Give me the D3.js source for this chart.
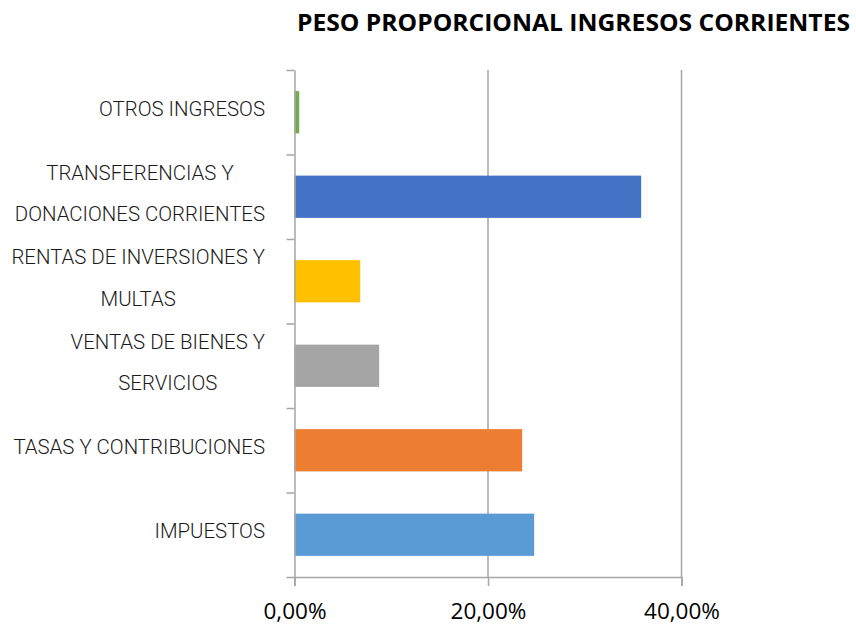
<!DOCTYPE html>
<html>
<head>
<meta charset="utf-8">
<script src="https://cdn.jsdelivr.net/npm/d3@7"></script>
<style>
  body { margin: 0; background: #fff; }
  .cat { font-family: Roboto, "Liberation Sans", sans-serif; font-weight: 300; font-size: 20.4px; fill: #1a1a1a; }
  .x-axis text { font-family: "Open Sans", sans-serif; font-size: 22.5px; fill: #000; }
  .title { font-family: "Open Sans", sans-serif; font-weight: 700; font-size: 23.5px; fill: #000; }
</style>
</head>
<body>
<svg></svg>
<script>
const width = 856;
const height = 626;

// data, top to bottom as drawn
const categories = [
  "OTROS INGRESOS",
  "TRANSFERENCIAS Y\nDONACIONES CORRIENTES",
  "RENTAS DE INVERSIONES Y\nMULTAS",
  "VENTAS DE BIENES Y\nSERVICIOS",
  "TASAS Y CONTRIBUCIONES",
  "IMPUESTOS"
];
const values = [0.0049, 0.3583, 0.0679, 0.0875, 0.2353, 0.2477];
const colors = ["#70ad47", "#4472c4", "#ffc000", "#a5a5a5", "#ed7d31", "#5b9bd5"];
const xTicks = [0, 0.2, 0.4];

const plotLeft = 294.5, plotRight = 681.5, plotTop = 70, plotBottom = 577;

const svg = d3.select("svg").attr("width", width).attr("height", height);

const x = d3.scaleLinear().domain([0, 0.4]).range([plotLeft, plotRight]);
const y = d3.scaleBand().domain(d3.range(categories.length))
  .range([plotTop, plotBottom]).paddingInner(0.5).paddingOuter(0.25);
const yEdge = d3.scaleLinear().domain([0, categories.length]).range([plotTop, plotBottom]);

const locale = d3.formatLocale({ decimal: ",", thousands: ".", grouping: [3], currency: ["", "€"] });
const pct = locale.format(".2%");

// gridlines
svg.append("g")
  .selectAll("line")
  .data(xTicks.slice(1))
  .join("line")
  .attr("x1", d => x(d)).attr("x2", d => x(d))
  .attr("y1", plotTop).attr("y2", plotBottom)
  .attr("stroke", "#a6a6a6").attr("stroke-width", 1.5);

// bars
svg.append("g")
  .selectAll("rect")
  .data(values)
  .join("rect")
  .attr("x", x(0))
  .attr("y", (d, i) => y(i))
  .attr("width", d => x(d) - x(0))
  .attr("height", y.bandwidth())
  .attr("fill", (d, i) => colors[i]);

// x axis
const xAxis = svg.append("g")
  .attr("class", "x-axis")
  .attr("transform", `translate(0,${plotBottom})`)
  .call(d3.axisBottom(x).tickValues(xTicks).tickSize(9).tickPadding(17).tickFormat(pct));
xAxis.select(".domain").attr("stroke", "#a6a6a6").attr("stroke-width", 1.5);
xAxis.selectAll(".tick line").attr("stroke", "#a6a6a6").attr("stroke-width", 1.5);

// y axis, ticks between categories
const yAxis = svg.append("g")
  .attr("transform", `translate(${plotLeft},0)`)
  .call(d3.axisLeft(yEdge).tickValues(d3.range(categories.length + 1)).tickSize(8).tickSizeOuter(0).tickFormat(""));
yAxis.select(".domain").attr("stroke", "#a6a6a6").attr("stroke-width", 1.5);
yAxis.selectAll(".tick line").attr("stroke", "#a6a6a6").attr("stroke-width", 1.5);

// category labels: block right edge at 265, lines centred within block
const labelRight = 265;
const lineGap = 41.5;
categories.forEach((c, i) => {
  const lines = c.split("\n");
  const cy = y(i) + y.bandwidth() / 2 - 3.5;
  const g = svg.append("g");
  const texts = lines.map((l, j) => g.append("text")
    .attr("class", "cat")
    .attr("y", cy + (j - (lines.length - 1) / 2) * lineGap)
    .attr("dy", "0.35em")
    .attr("text-anchor", "middle")
    .text(l));
  const w = d3.max(texts, t => t.node().getComputedTextLength());
  texts.forEach(t => t.attr("x", labelRight - w / 2));
});

// title
svg.append("text")
  .attr("class", "title")
  .attr("x", 573.5)
  .attr("y", 31)
  .attr("text-anchor", "middle")
  .attr("textLength", 553)
  .attr("lengthAdjust", "spacingAndGlyphs")
  .text("PESO PROPORCIONAL INGRESOS CORRIENTES");
</script>
</body>
</html>
